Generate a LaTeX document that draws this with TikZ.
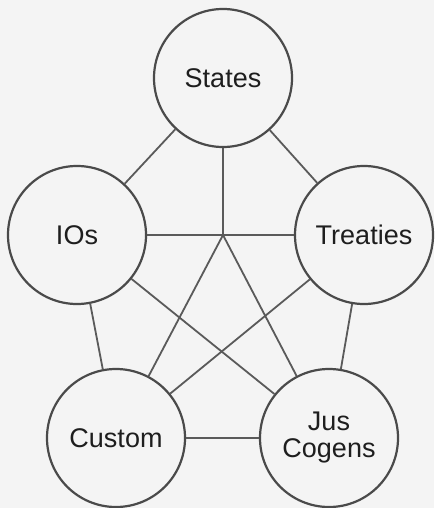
\documentclass[tikz,border=0pt]{standalone}
\usepackage{fontspec}
\setmainfont{Liberation Sans}
\definecolor{bg}{HTML}{F4F4F4}
\definecolor{edge}{HTML}{5A5A5A}
\definecolor{ring}{HTML}{4A4A4A}
\definecolor{ink}{HTML}{1E1E1E}
\begin{document}
\begin{tikzpicture}[x=1pt,y=-1pt,
  source/.style={circle,draw=ring,line width=2.2pt,fill=bg,inner sep=0pt,
    minimum size=138pt,text=ink,align=center,
    font=\fontsize{27}{30}\selectfont},
  link/.style={draw=edge,line width=1.8pt}]
  \fill[bg] (0,0) rectangle (434,508);
  \useasboundingbox (0,0) rectangle (434,508);

  % the five sources
  \node[source] (states)   at (223,78)  {States};
  \node[source] (ios)      at (77,235)  {IOs};
  \node[source] (treaties) at (364,235) {Treaties};
  \node[source] (custom)   at (116,438) {Custom};
  \node[source] (jus)      at (329,438) {Jus\\[-3pt]Cogens};

  % branching point below States
  \coordinate (hub) at (223,235);

  % links between the sources
  \path[link] (states) -- (ios);
  \path[link] (states) -- (treaties);
  \path[link] (states) -- (hub);
  \path[link] (hub) -- (custom);
  \path[link] (hub) -- (jus);
  \path[link] (ios) -- (treaties);
  \path[link] (ios) -- (custom);
  \path[link] (ios) -- (jus);
  \path[link] (treaties) -- (custom);
  \path[link] (treaties) -- (jus);
  \path[link] (custom) -- (jus);
\end{tikzpicture}
\end{document}
